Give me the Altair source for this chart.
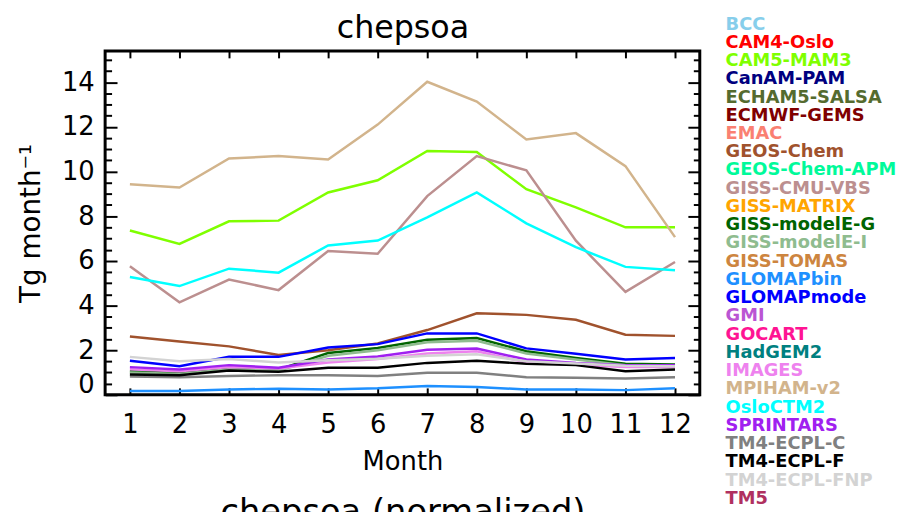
import altair as alt
import pandas as pd

models = ["BCC", "CAM4-Oslo", "CAM5-MAM3", "CanAM-PAM", "ECHAM5-SALSA", "ECMWF-GEMS",
          "EMAC", "GEOS-Chem", "GEOS-Chem-APM", "GISS-CMU-VBS", "GISS-MATRIX",
          "GISS-modelE-G", "GISS-modelE-I", "GISS-TOMAS", "GLOMAPbin", "GLOMAPmode",
          "GMI", "GOCART", "HadGEM2", "IMAGES", "MPIHAM-v2", "OsloCTM2", "SPRINTARS",
          "TM4-ECPL-C", "TM4-ECPL-F", "TM4-ECPL-FNP", "TM5"]
colors = ["#87CEEB", "#FF0000", "#7FFF00", "#000080", "#556B2F", "#800000",
          "#FA8072", "#A0522D", "#00FA9A", "#BC8F8F", "#FFA500",
          "#006400", "#8FBC8F", "#CD853F", "#1E90FF", "#0000FF",
          "#BA55D3", "#FF1493", "#008080", "#EE82EE", "#D2B48C", "#00FFFF", "#A020F0",
          "#808080", "#000000", "#D3D3D3", "#B03060"]

months = list(range(1, 13))

cam5_mam3 = [7.36, 6.76, 7.77, 7.80, 9.06, 9.61, 10.92, 10.87, 9.21, 8.39, 7.50, 7.50]
geos_chem = [2.61, 2.39, 2.17, 1.78, 2.00, 2.30, 2.90, 3.65, 3.58, 3.36, 2.69, 2.64]
giss_cmu_vbs = [5.76, 4.14, 5.16, 4.69, 6.44, 6.32, 8.90, 10.69, 10.05, 6.90, 4.61, 5.95]
giss_modele_g = [1.06, 0.98, 1.20, 1.13, 1.87, 2.10, 2.47, 2.54, 1.95, 1.65, 1.39, 1.36]
giss_modele_i = [1.00, 0.93, 1.15, 1.08, 1.75, 2.00, 2.35, 2.42, 1.85, 1.58, 1.33, 1.33]
glomapbin = [0.17, 0.17, 0.24, 0.27, 0.24, 0.29, 0.39, 0.35, 0.24, 0.24, 0.21, 0.29]
glomapmode = [1.53, 1.28, 1.70, 1.70, 2.12, 2.27, 2.75, 2.75, 2.08, 1.84, 1.58, 1.65]
images = [1.15, 1.05, 1.25, 1.18, 1.45, 1.60, 1.85, 1.95, 1.45, 1.35, 1.25, 1.25]
mpiham_v2 = [9.43, 9.28, 10.58, 10.69, 10.54, 12.10, 14.02, 13.13, 11.43, 11.72, 10.24, 7.06]
osloctm2 = [5.28, 4.87, 5.65, 5.47, 6.69, 6.91, 7.95, 9.06, 7.68, 6.61, 5.73, 5.58]
sprintars = [1.24, 1.13, 1.33, 1.21, 1.58, 1.72, 2.02, 2.07, 1.58, 1.43, 1.33, 1.33]
tm4_ecpl_c = [0.82, 0.79, 0.84, 0.88, 0.88, 0.84, 0.99, 0.99, 0.79, 0.76, 0.73, 0.79]
tm4_ecpl_f = [0.91, 0.88, 1.09, 1.03, 1.21, 1.21, 1.43, 1.53, 1.39, 1.33, 1.06, 1.13]
tm4_ecpl_fnp = [1.70, 1.50, 1.60, 1.45, 1.55, 1.62, 1.75, 1.82, 1.50, 1.40, 1.30, 1.28]

series = {
    "CAM5-MAM3": cam5_mam3,
    "GEOS-Chem": geos_chem,
    "GISS-CMU-VBS": giss_cmu_vbs,
    "GISS-modelE-G": giss_modele_g,
    "GISS-modelE-I": giss_modele_i,
    "GLOMAPbin": glomapbin,
    "GLOMAPmode": glomapmode,
    "IMAGES": images,
    "MPIHAM-v2": mpiham_v2,
    "OsloCTM2": osloctm2,
    "SPRINTARS": sprintars,
    "TM4-ECPL-C": tm4_ecpl_c,
    "TM4-ECPL-F": tm4_ecpl_f,
    "TM4-ECPL-FNP": tm4_ecpl_fnp,
}

rows = []
for name in models:
    if name in series:
        for m, v in zip(months, series[name]):
            rows.append({"model": name, "month": m, "value": v})
df = pd.DataFrame(rows)

FONT = "DejaVu Sans"
major_y = [0, 2, 4, 6, 8, 10, 12, 14]
minor_y = [v / 2 for v in range(0, 31) if v % 4 != 0]

xscale = alt.Scale(domain=[0.5, 12.5], nice=False, zero=False)
yscale = alt.Scale(domain=[0, 15.4], nice=False, zero=False)


def tick_axis(orient, values, size, **extra):
    opts = dict(orient=orient, values=values, ticks=True, tickSize=size, tickWidth=2,
                tickColor="black", offset=-size, labels=False, domain=False,
                grid=False, title=None)
    opts.update(extra)
    return alt.Axis(**opts)


lines = alt.Chart(df).mark_line(strokeWidth=2.5).encode(
    x=alt.X("month:Q", scale=xscale,
            axis=alt.Axis(orient="bottom", values=months, ticks=False, tickSize=0,
                          domain=False, grid=False, labelPadding=17, labelFontSize=26,
                          labelFont=FONT, labelColor="black", labelFlush=False,
                          labelOverlap=False, title="Month", titleFontSize=26,
                          titleFont=FONT, titleFontWeight="normal", titleColor="black",
                          titlePadding=11)),
    y=alt.Y("value:Q", scale=yscale,
            axis=alt.Axis(orient="left", values=major_y, ticks=False, tickSize=0,
                          domain=False, grid=False, labelPadding=11, labelFontSize=26,
                          labelFont=FONT, labelColor="black", labelFlush=False,
                          labelOverlap=False,
                          labelOffset={"condition": {"test": "datum.value === 0", "value": -10}, "value": 0},
                          title="Tg month\u207b\u00b9", titleFontSize=28, titleFont=FONT,
                          titleFontWeight="normal", titleColor="black", titlePadding=16)),
    color=alt.Color("model:N", scale=alt.Scale(domain=models, range=colors),
                    legend=alt.Legend(title=None, orient="none", legendX=608, legendY=-35.5,
                                      direction="vertical", symbolSize=0, symbolOpacity=0,
                                      symbolStrokeWidth=0, labelOffset=0, labelFontSize=18,
                                      labelFontWeight="bold", labelFont=FONT, rowPadding=0.4,
                                      padding=0, labelLimit=400,
                                      labelColor={"expr": "scale('color', datum.value)"})),
)

inv = alt.Chart(df).mark_point(opacity=0, size=1)

top_axis = tick_axis("top", months, 7, title="chepsoa", titleFontSize=32, titleFont=FONT,
                     titleFontWeight="normal", titleColor="black", titleY=-21,
                     titleBaseline="alphabetic")
layer2 = inv.encode(
    x=alt.X("month:Q", scale=xscale, axis=top_axis),
    y=alt.Y("value:Q", scale=yscale, axis=tick_axis("left", major_y, 12)),
)

bottom_axis = tick_axis("bottom", months, 7, title="chepsoa (normalized)", titleFontSize=34,
                        titleFont=FONT, titleFontWeight="normal", titleColor="black",
                        titleY=136, titleBaseline="alphabetic")
layer3 = inv.encode(
    x=alt.X("month:Q", scale=xscale, axis=bottom_axis),
    y=alt.Y("value:Q", scale=yscale, axis=tick_axis("left", minor_y, 6.5)),
)
layer4 = inv.encode(
    x=alt.X("month:Q", scale=xscale, axis=None),
    y=alt.Y("value:Q", scale=yscale, axis=tick_axis("right", major_y, 12)),
)
layer5 = inv.encode(
    x=alt.X("month:Q", scale=xscale, axis=None),
    y=alt.Y("value:Q", scale=yscale, axis=tick_axis("right", minor_y, 6.5)),
)

chart = alt.layer(lines, layer2, layer3, layer4, layer5).resolve_axis(
    x="independent", y="independent"
).properties(
    width=600,
    height=347,
    autosize=alt.AutoSizeParams(type="none"),
    padding={"left": 98, "top": 41, "right": 200, "bottom": 124},
).configure(font=FONT, background="white").configure_view(stroke="black", strokeWidth=3)

chart.save("out.html", embed_options={"renderer": "svg", "actions": False})
